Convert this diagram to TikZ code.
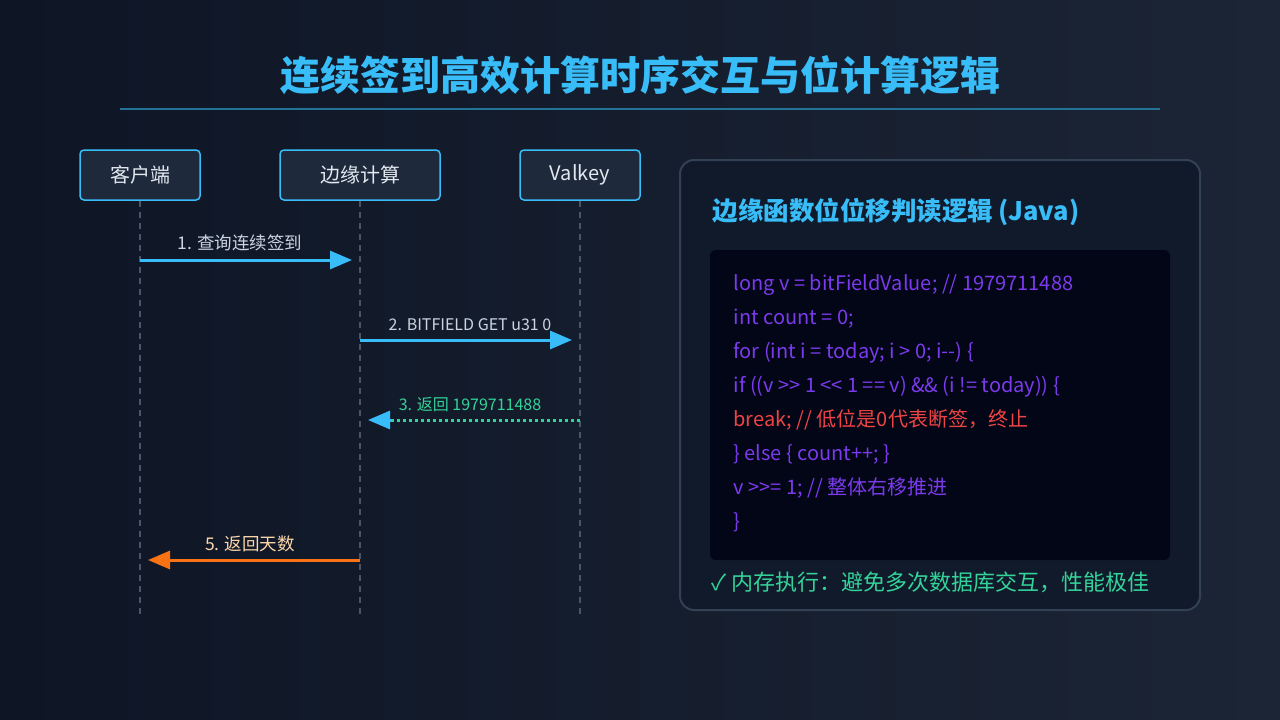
\documentclass[tikz,border=0pt]{standalone}
\usepackage{fontspec}
\setmainfont{Noto Sans CJK SC}
\usetikzlibrary{arrows.meta}
\definecolor{bgA}{HTML}{0E1626}
\definecolor{bgB}{HTML}{1C2535}
\definecolor{sky}{HTML}{38BDF8}
\definecolor{boxf}{HTML}{1E293B}
\definecolor{lifec}{HTML}{4B5563}
\definecolor{grn}{HTML}{34D399}
\definecolor{org}{HTML}{F97316}
\definecolor{pur}{HTML}{7C3AED}
\definecolor{redc}{HTML}{EF4444}
\definecolor{panel}{HTML}{111A2B}
\definecolor{panelb}{HTML}{334155}
\definecolor{codef}{HTML}{020617}
\definecolor{txt}{HTML}{E2E8F0}
\definecolor{lbl}{HTML}{CBD5E1}
\definecolor{peach}{HTML}{FED7AA}
\begin{document}
\begin{tikzpicture}[x=1pt,y=-1pt,
 actor/.style={draw=sky,line width=1.5pt,fill=boxf,rounded corners=4pt,minimum height=50pt,text=txt,font=\fontsize{20}{24}\selectfont},
 life/.style={draw=lifec,line width=1.2pt,dash pattern=on 6pt off 5pt},
 msg/.style={line width=3pt,-{Triangle[length=22pt,width=18pt]}},
 lab/.style={font=\fontsize{17.5}{20}\selectfont,anchor=base},
 labs/.style={lab,font=\fontsize{16}{19}\selectfont},
 code/.style={anchor=base west,font=\fontsize{20}{24}\selectfont,text=pur}]
\useasboundingbox (0,0) rectangle (1280,720);
\shade[left color=bgA,right color=bgB] (0,0) rectangle (1280,720);
\node[font=\bfseries\fontsize{40}{46}\selectfont,text=sky] (title) at (640,75) {连续签到高效计算时序交互与位计算逻辑};
\draw[color=sky!55!bgA,line width=2.5pt] (120,109) -- (1160,109);
\node[actor,minimum width=120pt] (c) at (140,175) {客户端};
\node[actor,minimum width=160pt] (e) at (360,175) {边缘计算};
\node[actor,minimum width=120pt] (v) at (580,175) {Valkey};
\coordinate (cb) at (140,615); \coordinate (eb) at (360,615); \coordinate (vb) at (580,615);
\draw[life] (c.south) -- (cb); \draw[life] (e.south) -- (eb); \draw[life] (v.south) -- (vb);
\coordinate (m1a) at (140,260); \coordinate (m1b) at (352,260);
\draw[msg,sky] (m1a) -- (m1b);
\node[lab,text=lbl] (l1) at (240,249) {1. 查询连续签到};
\coordinate (m2a) at (360,340); \coordinate (m2b) at (572,340);
\draw[msg,sky] (m2a) -- (m2b);
\node[labs,text=lbl] (l2) at (470,330) {2. BITFIELD GET u31 0};
\coordinate (m3a) at (580,420); \coordinate (m3b) at (368,420);
\draw[grn,line width=3pt,dash pattern=on 3pt off 3pt] (m3a) -- (390,420);
\draw[sky,line width=3pt,-{Triangle[length=22pt,width=18pt]}] (391,420) -- (m3b);
\node[labs,text=grn] (l3) at (470,410) {3. 返回 1979711488};
\coordinate (m5a) at (360,560); \coordinate (m5b) at (148,560);
\draw[msg,org] (m5a) -- (m5b);
\node[lab,text=peach] (l5) at (250,550) {5. 返回天数};
\draw[panelb,fill=panel,line width=2pt,rounded corners=14pt] (680,160) rectangle (1200,610);
\node[anchor=base west,font=\bfseries\fontsize{25.5}{30}\selectfont,text=sky] (h) at (709,220) {边缘函数位位移判读逻辑 (Java)};
\fill[codef,rounded corners=6pt] (710,250) rectangle (1170,560);
\node[code] (c1) at (730,290) {long v = bitFieldValue; // 1979711488};
\node[code] (c2) at (730,324) {int count = 0;};
\node[code] (c3) at (730,358) {for (int i = today; i > 0; i-{}-) \{};
\node[code] (c4) at (730,392) {if ((v >{}> 1 <{}< 1 == v) \&\& (i != today)) \{};
\node[code,text=redc] (c5) at (730,426) {break; // 低位是0代表断签，终止};
\node[code] (c6) at (730,460) {\} else \{ count++; \}};
\node[code] (c7) at (730,494) {v >{}>= 1; // 整体右移推进};
\node[code] (c8) at (730,528) {\}};
\node[anchor=base west,font=\fontsize{22}{26}\selectfont,text=grn] (f) at (708,590) {✓ 内存执行：避免多次数据库交互，性能极佳};
\end{tikzpicture}
\end{document}
